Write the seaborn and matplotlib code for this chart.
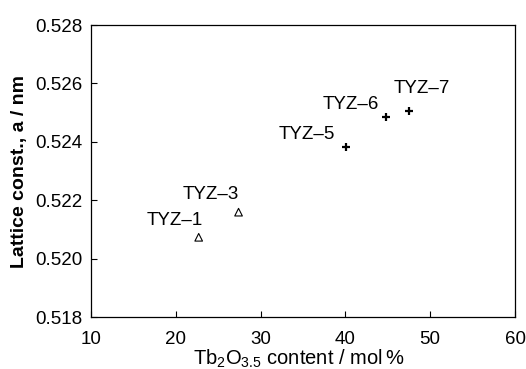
import matplotlib
matplotlib.use("Agg")
import matplotlib.pyplot as plt
import seaborn as sns
import pandas as pd

# Sample data: Tb2O3.5 content (mol%) vs. lattice constant a (nm)
samples = ["TYZ-1", "TYZ-3", "TYZ-5", "TYZ-6", "TYZ-7"]
tb_content = [22.7, 27.4, 40.1, 44.8, 47.5]
lattice_a = [0.52073, 0.52159, 0.52383, 0.52484, 0.52505]
series = ["low", "low", "high", "high", "high"]

x_ticks = [10, 20, 30, 40, 50, 60]
y_ticks = [0.518, 0.520, 0.522, 0.524, 0.526, 0.528]

df = pd.DataFrame({"sample": samples, "tb": tb_content, "a": lattice_a, "series": series})

sns.set_theme(style="ticks")
plt.rcParams["font.family"] = ["Liberation Sans", "DejaVu Sans"]
plt.rcParams["mathtext.fontset"] = "custom"
plt.rcParams["mathtext.rm"] = "Liberation Sans"
plt.rcParams["mathtext.it"] = "Liberation Sans"
plt.rcParams["text.color"] = "black"
plt.rcParams["axes.labelcolor"] = "black"

fig = plt.figure(figsize=(5.26, 3.69), dpi=100)
ax = fig.add_axes([91 / 526, 1 - 317 / 369, (515 - 91) / 526, (317 - 25) / 369])

low = df[df["series"] == "low"]
high = df[df["series"] == "high"]
sns.scatterplot(data=low, x="tb", y="a", marker="^", s=30, facecolors="none",
                edgecolor="black", linewidth=0.8, ax=ax, legend=False)
sns.scatterplot(data=high, x="tb", y="a", marker="+", s=40, color="black",
                linewidth=1.6, ax=ax, legend=False)

# label offsets in pixels (dx, dy, horizontal alignment)
offsets = {
    "TYZ-1": (4, 17, "right"),
    "TYZ-3": (0, 18, "right"),
    "TYZ-5": (-11, 12, "right"),
    "TYZ-6": (-7, 13, "right"),
    "TYZ-7": (-15, 23, "left"),
}
for name, xv, yv in zip(samples, tb_content, lattice_a):
    dx, dy, ha = offsets[name]
    ax.annotate(name.replace("-", "\u2013"), (xv, yv), xytext=(dx, dy),
                textcoords="offset pixels", ha=ha, va="center",
                fontsize=13.5, color="black")

ax.set_xlim(10, 60)
ax.set_ylim(0.518, 0.528)
ax.set_xticks(x_ticks)
ax.set_yticks(y_ticks)
ax.set_xticklabels([str(t) for t in x_ticks])
ax.set_yticklabels([f"{t:.3f}" for t in y_ticks])

ax.tick_params(axis="both", direction="in", length=4, width=0.8, colors="black",
               labelsize=13.5)
ax.tick_params(axis="x", pad=10)
ax.tick_params(axis="y", pad=6)
for sp in ax.spines.values():
    sp.set_visible(True)
    sp.set_linewidth(0.9)
    sp.set_color("black")

ax.set_xlabel("Tb$_{2}$O$_{3.5}$ content / mol\u2009%", fontsize=14.5, labelpad=0)
ax.set_ylabel("Lattice const., a / nm", fontsize=14, fontweight="bold")
ax.yaxis.set_label_coords(-0.149, 0.5)
ax.xaxis.set_label_coords(0.49, -0.105)

fig.savefig("out.png", dpi=100)
